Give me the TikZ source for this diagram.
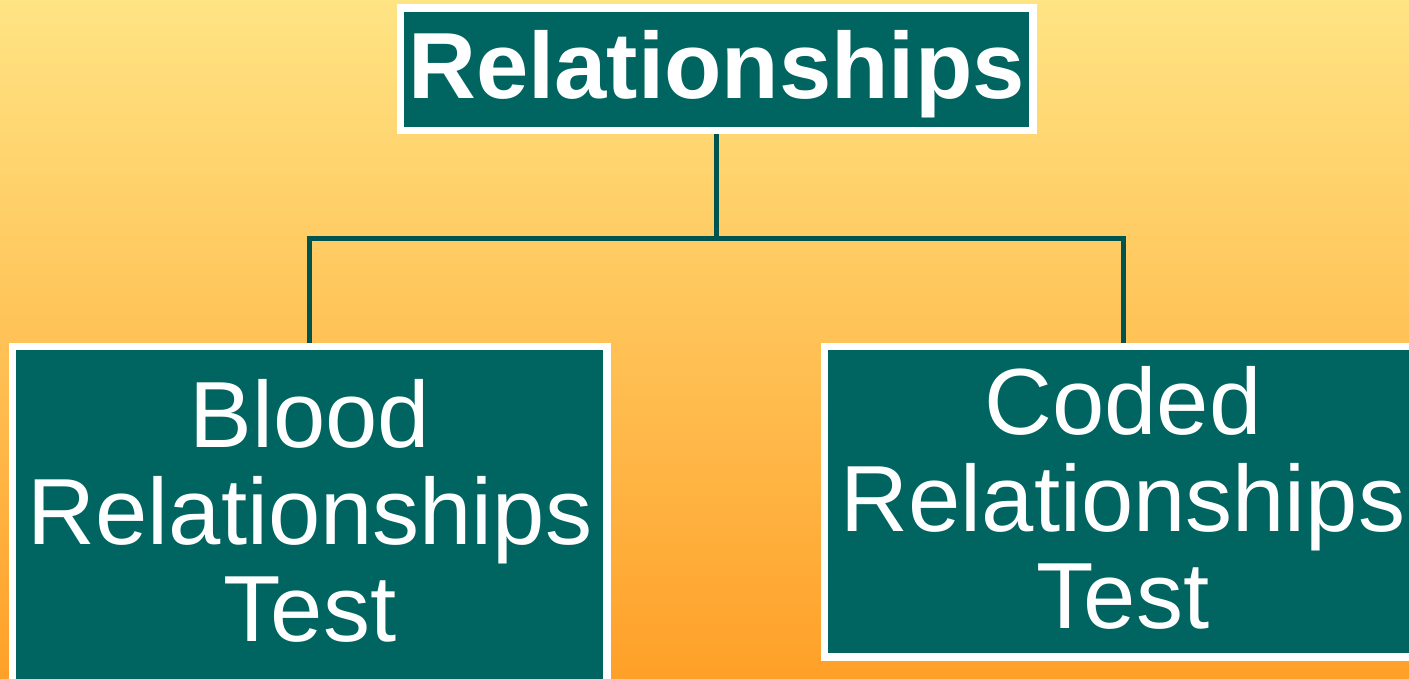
\documentclass[tikz,border=0pt]{standalone}
\usepackage{fontspec}
\setmainfont{Liberation Sans}
\definecolor{bgtop}{RGB}{255,228,132}
\definecolor{bgbot}{RGB}{255,160,40}
\definecolor{boxfill}{RGB}{0,100,96}
\definecolor{linecol}{RGB}{0,84,80}
\tikzset{
  box/.style={draw=white, line width=5pt, fill=boxfill, rectangle, inner sep=0pt},
  conn/.style={draw=linecol, line width=5pt},
  bigtxt/.style={text=white, inner sep=0pt, align=center, font=\fontsize{94}{97}\selectfont},
  titletxt/.style={text=white, inner sep=0pt, font=\fontsize{94}{97}\selectfont\bfseries},
}
\begin{document}
\begin{tikzpicture}[x=1pt, y=-1pt]
  % page and background shading
  \useasboundingbox (0,0) rectangle (1409,679);
  \shade[top color=bgtop, bottom color=bgbot] (0,0) rectangle (1409,679);

  % boxes
  \node[box, minimum width=630pt, minimum height=120pt] (top) at (716.5,69.5) {};
  \node[box, minimum width=592pt, minimum height=336.5pt] (blood) at (309.5,515.75) {};
  \node[box, minimum width=595pt, minimum height=308pt] (coded) at (1123,501.5) {};

  % tree connectors
  \coordinate (bus) at (716.5,239);
  \draw[conn] (top.south) -- (bus);
  \draw[conn] (blood.north) |- (bus) -| (coded.north);

  % redraw the box outlines over the connector ends
  \draw[white, line width=5pt] (top.north west) rectangle (top.south east);
  \draw[white, line width=5pt] (blood.north west) rectangle (blood.south east);
  \draw[white, line width=5pt] (coded.north west) rectangle (coded.south east);

  % labels
  \node[titletxt, anchor=base] (toptxt) at (716.5,99) {Relationships};
  \node[bigtxt] (bloodtxt) at (310,511) {Blood\\Relationships\\Test};
  \node[bigtxt] (codedtxt) at (1123,497.5) {Coded\\Relationships\\Test};
\end{tikzpicture}
\end{document}
